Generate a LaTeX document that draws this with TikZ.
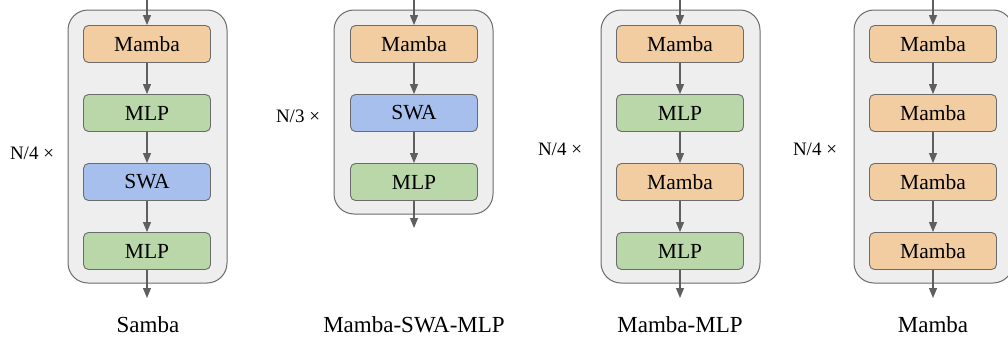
\documentclass[tikz,border=0pt]{standalone}
\usepackage{fontspec}
\setmainfont{Liberation Serif}
\usetikzlibrary{arrows.meta}
\definecolor{mambac}{HTML}{F1CDA1}
\definecolor{mlpc}{HTML}{BAD7A9}
\definecolor{swac}{HTML}{A7BFEC}
\definecolor{outerc}{HTML}{EEEEEE}
\definecolor{edgec}{HTML}{6B6B6B}
\definecolor{arrc}{HTML}{5F5F5F}
\begin{document}
\begin{tikzpicture}[x=1pt,y=-1pt,
  blk/.style={draw=edgec,line width=0.9pt,rounded corners=5pt,minimum width=127pt,minimum height=37pt,font=\fontsize{21.5}{24}\selectfont,inner sep=0pt},
  mambab/.style={blk,fill=mambac},
  mlpb/.style={blk,fill=mlpc},
  swab/.style={blk,fill=swac},
  outer/.style={draw=edgec,line width=1pt,fill=outerc,rounded corners=20pt},
  arr/.style={draw=arrc,line width=1.1pt,-{Triangle[length=10pt,width=8pt]}},
  lbl/.style={font=\fontsize{23}{26}\selectfont},
  rep/.style={font=\fontsize{19}{22}\selectfont}]
\useasboundingbox (0,0) rectangle (1008,343);
% ---------- Samba ----------
\draw[outer] (68,10) rectangle (227,283);
\node[mambab] (s1) at (147,44) {Mamba};
\node[mlpb]   (s2) at (147,113) {MLP};
\node[swab]   (s3) at (147,182) {SWA};
\node[mlpb]   (s4) at (147,251) {MLP};
\coordinate (sin) at (147,0);
\coordinate (sout) at (147,298);
\draw[arr] (sin) -- (s1);
\draw[arr] (s1) -- (s2);
\draw[arr] (s2) -- (s3);
\draw[arr] (s3) -- (s4);
\draw[arr] (s4) -- (sout);
\node[rep] (sn) at (32,153) {N/4 ×};
\node[lbl] (sl) at (148,325) {Samba};
% ---------- Mamba-SWA-MLP ----------
\draw[outer] (334,10) rectangle (493,214);
\node[mambab] (m1) at (414,44) {Mamba};
\node[swab]   (m2) at (414,113) {SWA};
\node[mlpb]   (m3) at (414,182) {MLP};
\coordinate (min) at (414,0);
\coordinate (mout) at (414,228);
\draw[arr] (min) -- (m1);
\draw[arr] (m1) -- (m2);
\draw[arr] (m2) -- (m3);
\draw[arr] (m3) -- (mout);
\node[rep] (mn) at (298,116) {N/3 ×};
\node[lbl] (ml) at (414,325) {Mamba-SWA-MLP};
% ---------- Mamba-MLP ----------
\draw[outer] (601,10) rectangle (760,283);
\node[mambab] (p1) at (680,44) {Mamba};
\node[mlpb]   (p2) at (680,113) {MLP};
\node[mambab] (p3) at (680,182) {Mamba};
\node[mlpb]   (p4) at (680,251) {MLP};
\coordinate (pin) at (680,0);
\coordinate (pout) at (680,298);
\draw[arr] (pin) -- (p1);
\draw[arr] (p1) -- (p2);
\draw[arr] (p2) -- (p3);
\draw[arr] (p3) -- (p4);
\draw[arr] (p4) -- (pout);
\node[rep] (pn) at (560,149) {N/4 ×};
\node[lbl] (pl) at (680,325) {Mamba-MLP};
% ---------- Mamba ----------
\begin{scope}
\clip (0,0) rectangle (1008,343);
\draw[outer] (854,10) rectangle (1013,283);
\end{scope}
\node[mambab] (q1) at (933,44) {Mamba};
\node[mambab] (q2) at (933,113) {Mamba};
\node[mambab] (q3) at (933,182) {Mamba};
\node[mambab] (q4) at (933,251) {Mamba};
\coordinate (qin) at (933,0);
\coordinate (qout) at (933,298);
\draw[arr] (qin) -- (q1);
\draw[arr] (q1) -- (q2);
\draw[arr] (q2) -- (q3);
\draw[arr] (q3) -- (q4);
\draw[arr] (q4) -- (qout);
\node[rep] (qn) at (815,149) {N/4 ×};
\node[lbl] (ql) at (933,325) {Mamba};
\end{tikzpicture}
\end{document}
